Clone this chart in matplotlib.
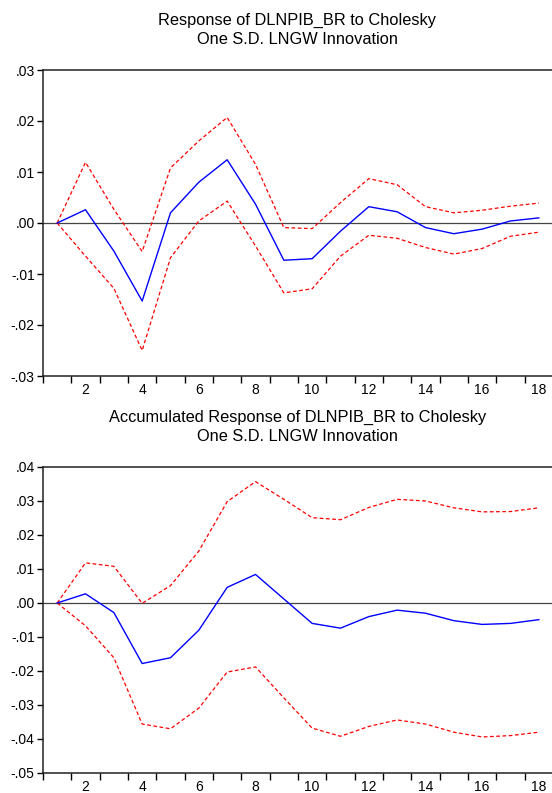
import numpy as np
import matplotlib
matplotlib.use("Agg")
import matplotlib.pyplot as plt
from matplotlib.ticker import MultipleLocator, FixedLocator, FuncFormatter

plt.rcParams['font.family'] = ['Liberation Sans', 'DejaVu Sans']

# ---------------- DATA ----------------
periods = list(range(1, 19))

# response of DLNPIB_BR
resp = [0.0, 0.0026, -0.0055, -0.0153, 0.0020, 0.0080, 0.0124, 0.0037, -0.0073,
        -0.0070, -0.0016, 0.0032, 0.0022, -0.0009, -0.0021, -0.0012, 0.0004, 0.0010]
resp_up = [0.0, 0.0119, 0.0027, -0.0056, 0.0108, 0.0161, 0.0207, 0.0115, -0.0009,
           -0.0011, 0.0040, 0.0087, 0.0075, 0.0032, 0.0020, 0.0025, 0.0033, 0.0039]
resp_lo = [0.0, -0.0065, -0.0128, -0.0250, -0.0068, 0.0004, 0.0043, -0.0045, -0.0137,
           -0.0129, -0.0065, -0.0024, -0.0030, -0.0048, -0.0061, -0.0050, -0.0026, -0.0018]

# accumulated response
acc = [0.0, 0.0027, -0.0028, -0.0178, -0.0161, -0.0080, 0.0046, 0.0084, 0.0012,
       -0.0060, -0.0074, -0.0040, -0.0021, -0.0030, -0.0052, -0.0063, -0.0060, -0.0049]
acc_up = [0.0, 0.0118, 0.0108, -0.0001, 0.0051, 0.0153, 0.0298, 0.0357, 0.0305,
          0.0251, 0.0245, 0.0281, 0.0305, 0.0300, 0.0280, 0.0268, 0.0269, 0.0280]
acc_lo = [0.0, -0.0067, -0.0161, -0.0356, -0.0370, -0.0309, -0.0203, -0.0188, -0.0279,
          -0.0368, -0.0392, -0.0363, -0.0344, -0.0356, -0.0380, -0.0394, -0.0390, -0.0380]

titles = ["Response of DLNPIB_BR to Cholesky\nOne S.D. LNGW Innovation",
          "Accumulated Response of DLNPIB_BR to Cholesky\nOne S.D. LNGW Innovation"]


def fmt(v, pos):
    v = round(v, 4)
    if abs(v) < 1e-9:
        return ".00"
    s = "%.2f" % v
    return s.replace("0.", ".", 1)


# ---------------- PLOT ----------------
W, H = 552, 793
fig = plt.figure(figsize=(W / 100, H / 100), dpi=100)

panels = [
    (resp, resp_up, resp_lo, (-0.03, 0.03), 70, 376, titles[0], 29.5),
    (acc, acc_up, acc_lo, (-0.05, 0.04), 467, 773, titles[1], 426.5),
]

for mid, up, lo, ylim, top, bot, title, ty in panels:
    left, right = 43, 553
    ax = fig.add_axes([left / W, 1 - bot / H, (right - left) / W, (bot - top) / H])
    ax.axhline(0, color="#444444", lw=0.9, zorder=1)
    ax.plot(periods, up, color="red", lw=0.9, ls=(0, (3, 2)))
    ax.plot(periods, lo, color="red", lw=0.9, ls=(0, (3, 2)))
    ax.plot(periods, mid, color="blue", lw=1.0)
    ax.set_xlim(0.5, 18.5)
    ax.set_ylim(*ylim)
    ax.xaxis.set_major_locator(FixedLocator(np.arange(0.5, 18.6, 1.0)))
    ax.xaxis.set_major_formatter(FuncFormatter(lambda v, p: ""))
    ax.xaxis.set_minor_locator(FixedLocator(range(2, 19, 2)))
    ax.xaxis.set_minor_formatter(FuncFormatter(lambda v, p: "%d" % round(v)))
    ax.tick_params(axis="x", which="major", direction="out", length=5, width=1)
    ax.tick_params(axis="x", which="minor", length=0, pad=5, labelsize=10)
    ax.yaxis.set_major_locator(MultipleLocator(0.01))
    ax.yaxis.set_major_formatter(FuncFormatter(fmt))
    ax.tick_params(axis="y", direction="out", length=4, width=1, labelsize=10, pad=2)
    for s in ax.spines.values():
        s.set_linewidth(1.1)
        s.set_color("#222222")
    fig.text((left + 552) / 2 / W, 1 - ty / H, title, ha="center", va="center",
             fontsize=11.8, linespacing=1.33)

plt.savefig("out.png", dpi=100)
